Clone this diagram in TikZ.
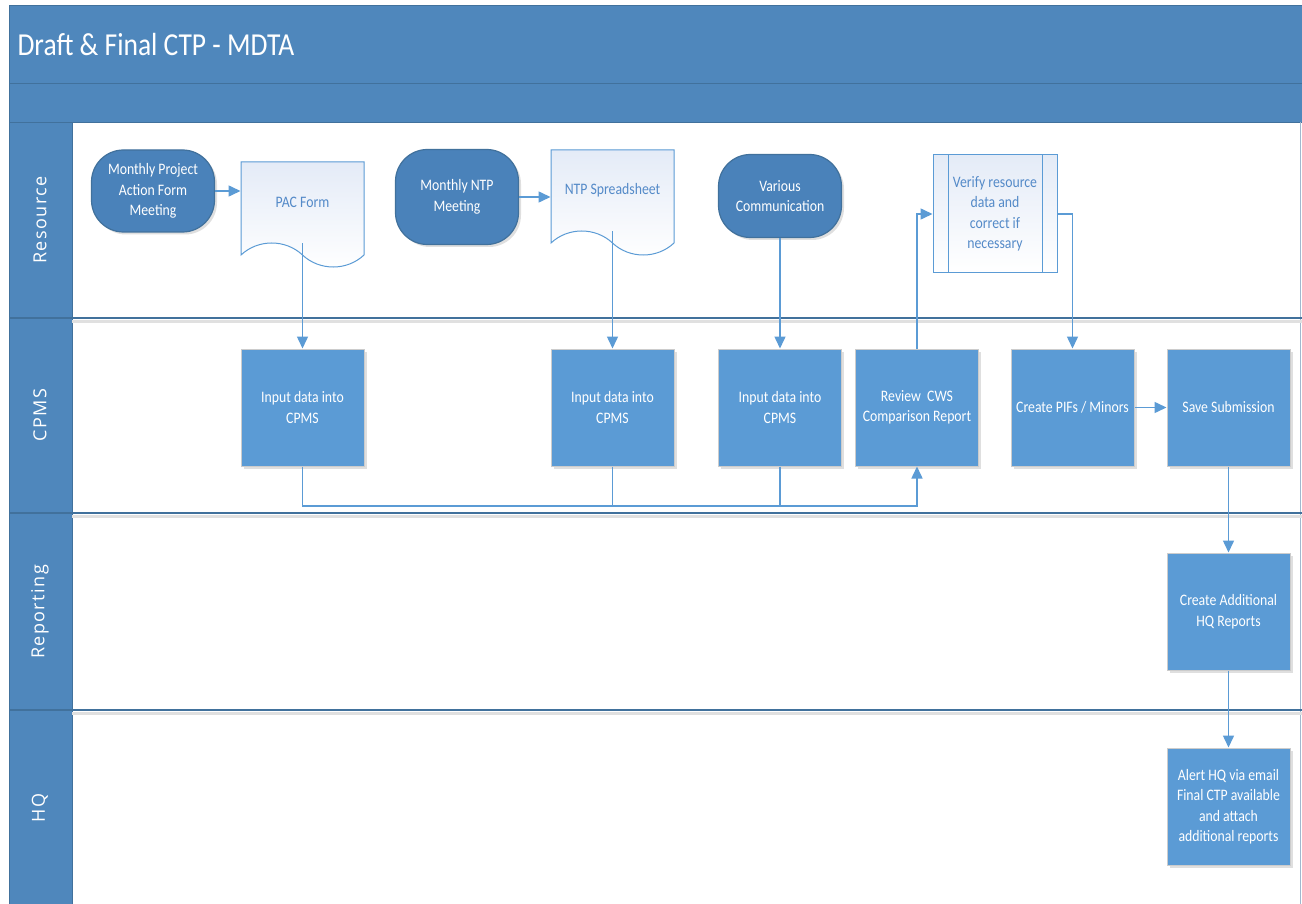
\documentclass[tikz,border=0pt]{standalone}
\usepackage{fontspec}
\setmainfont{Carlito}[FakeStretch=0.86]
\newfontfamily\lanefont{Open Sans}[LetterSpace=8]
\usepackage{tikz}
\usetikzlibrary{arrows.meta, positioning, shapes.symbols, shadows}

\definecolor{bandblue}{RGB}{79,135,188}
\definecolor{edgeblue}{RGB}{65,113,156}
\definecolor{boxblue}{RGB}{91,155,213}
\definecolor{termblue}{RGB}{74,130,186}
\definecolor{docfill}{RGB}{228,235,247}
\definecolor{doctext}{RGB}{84,138,200}

\begin{document}
\begin{tikzpicture}[
  x=1pt, y=-1pt,
  >={Triangle[length=12pt,width=11pt]},
  font=\fontsize{16}{20.5}\selectfont,
  shadowed/.style={drop shadow={shadow xshift=2.5pt, shadow yshift=-2.5pt, opacity=0.25}},
  terminal/.style={
    rectangle, rounded corners=32pt,
    draw=edgeblue, line width=1.2pt, fill=termblue,
    text=white, align=center, inner sep=2pt,
    minimum width=123pt, shadowed,
  },
  doc/.style={
    shape=tape, tape bend top=none, tape bend bottom=out and in,
    tape bend height=24pt, draw=boxblue, line width=1pt,
    top color=docfill, bottom color=white, text=doctext,
    minimum width=123pt, minimum height=105pt, align=center,
  },
  task/.style={
    rectangle, draw=black!20, line width=1pt, fill=boxblue,
    text=white, align=center, inner sep=2pt,
    minimum width=123pt, minimum height=117pt, shadowed,
  },
  subproc/.style={
    rectangle, draw=boxblue, line width=1pt,
    top color=docfill, bottom color=white, text=doctext,
    align=center, minimum width=124pt, minimum height=118pt,
  },
  conn/.style={->, draw=boxblue, line width=1.5pt},
  link/.style={draw=boxblue, line width=1.5pt},
  laneline/.style={draw=edgeblue, line width=1.6pt},
  laneshadow/.style={draw=black!12, line width=3pt},
  lanelabel/.style={rotate=90, text=white, font=\lanefont\fontsize{18}{20}\selectfont},
]
\useasboundingbox (0,0) rectangle (1302,904);

% --- Pool and lanes ---
\fill[white] (72,122) rectangle (1302,904);
\draw[fill=bandblue, draw=edgeblue] (9,5) rectangle (1302,83);
\draw[fill=bandblue, draw=edgeblue] (9,83) rectangle (1302,122);
\draw[fill=bandblue, draw=edgeblue] (9,122) rectangle (72,904);
\draw[edgeblue!50, line width=1pt] (1300,122) -- (1300,904);
\foreach \y in {318,513,710} {
  \draw[laneshadow] (72,\y+3) -- (1302,\y+3);
  \draw[laneline] (9,\y) -- (1302,\y);
}

\node[anchor=west, text=white, font=\fontsize{32}{36}\selectfont] (TITLE) at (14,45) {Draft \& Final CTP - MDTA};

\node[lanelabel] (LRES) at (40,220) {Resource};
\node[lanelabel] (LCPMS) at (40,415) {CPMS};
\node[lanelabel] (LREP) at (40,612) {Reporting};
\node[lanelabel] (LHQ) at (40,808) {HQ};

% --- Resource lane ---
\node[terminal, minimum height=82pt] (MPAF) at (153,191) {Monthly Project\\Action Form\\Meeting};
\node[doc] (PAC) at (302.5,202.5) {PAC Form};
\node[terminal, minimum height=95pt] (MNTP) at (457,197) {Monthly NTP\\Meeting};
\node[doc] (NTP) at (612.5,190.5) {NTP Spreadsheet};
\node[terminal, minimum height=83pt] (VC) at (780,196) {Various\\Communication};
\node[subproc] (VER) at (995,214) {Verify resource\\data and\\correct if\\necessary};
\draw[boxblue, line width=1pt] ([xshift=16pt]VER.north west) -- ([xshift=16pt]VER.south west);
\draw[boxblue, line width=1pt] ([xshift=-15pt]VER.north east) -- ([xshift=-15pt]VER.south east);

% --- CPMS lane ---
\node[task] (IN1) at (302.5,407.5) {Input data into\\CPMS};
\node[task] (IN2) at (612.5,407.5) {Input data into\\CPMS};
\node[task] (IN3) at (780,407.5) {Input data into\\CPMS};
\node[task] (REV) at (917,407.5) {Review~~CWS\\Comparison Report};
\node[task] (PIF) at (1072.5,407.5) {Create PIFs / Minors};
\node[task, right=32pt of PIF] (SAVE) {Save Submission};

% --- Reporting / HQ lanes ---
\node[task] (ADD) at (SAVE |- 0,611.5) {Create Additional\\HQ Reports};
\node[task] (ALERT) at (SAVE |- 0,806.5) {Alert HQ via email\\Final CTP available\\and attach\\additional reports};

% --- Arrows ---
\draw[conn] (MPAF) -- (PAC.west |- MPAF);
\draw[conn] (MNTP) -- (NTP.west |- MNTP);

\draw[conn] (PAC.south) -- (IN1.north);
\draw[conn] (NTP.south) -- (IN2.north);
\draw[conn] (VC.south) -- (IN3.north);

\coordinate (BUS) at (REV.south |- 0,506);
\draw[conn] (IN1.south) |- (BUS) -- (REV.south);
\draw[link] (IN2.south) -- (IN2.south |- BUS);
\draw[link] (IN3.south) -- (IN3.south |- BUS);

\draw[conn] (REV.north) |- (VER.west);
\draw[conn] (VER.east) -| (PIF.north);
\draw[conn] (PIF) -- (SAVE);

\draw[conn] (SAVE) -- (ADD);
\draw[conn] (ADD) -- (ALERT);

\end{tikzpicture}
\end{document}
